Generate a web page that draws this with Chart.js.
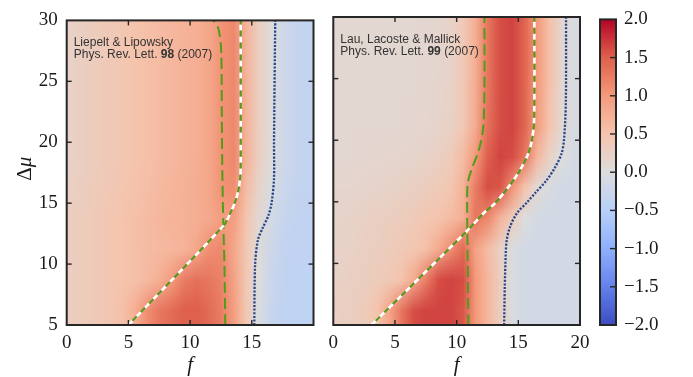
<!DOCTYPE html>
<html>
<head>
<meta charset="utf-8">
<script src="https://cdn.jsdelivr.net/npm/chart.js@4.4.1/dist/chart.umd.min.js"></script>
<style>
  html, body { margin: 0; padding: 0; background: #fff; }
  #wrap { position: relative; width: 693px; height: 377px; overflow: hidden; }
  canvas { position: absolute; top: 0; }
</style>
</head>
<body>
<div id="wrap">
  <canvas id="left" width="330" height="377" style="left:0"></canvas>
  <canvas id="right" width="280" height="377" style="left:320px"></canvas>
  <canvas id="cbar" width="103" height="377" style="left:590px"></canvas>
</div>
<script>
// cell centres of the colour maps (f across, delta mu down from the top)
const fCells = [0.5, 1.5, 2.5, 3.5, 4.5, 5.5, 6.5, 7.5, 8.5, 9.5, 10.5, 11.5, 12.5, 13.5, 14.5, 15.5, 16.5, 17.5, 18.5, 19.5];
const muCells = [28.75, 26.25, 23.75, 21.25, 18.75, 16.25, 13.75, 11.25, 8.75, 6.25];

// Liepelt & Lipowsky
const leftField = [
  [0.25, 0.3, 0.35, 0.4, 0.45, 0.5, 0.55, 0.6, 0.65, 0.7, 0.75, 0.85, 1.05, 1.15, 0.7, 0.3, 0.05, -0.2, -0.3, -0.35],
  [0.25, 0.3, 0.35, 0.4, 0.45, 0.5, 0.55, 0.6, 0.65, 0.7, 0.75, 0.85, 1.05, 1.15, 0.7, 0.3, 0.05, -0.2, -0.3, -0.35],
  [0.25, 0.3, 0.35, 0.4, 0.45, 0.5, 0.55, 0.6, 0.65, 0.7, 0.75, 0.85, 1.05, 1.15, 0.7, 0.3, 0.05, -0.2, -0.3, -0.35],
  [0.25, 0.3, 0.35, 0.4, 0.45, 0.5, 0.55, 0.6, 0.65, 0.7, 0.75, 0.85, 1.05, 1.15, 0.7, 0.3, 0.04, -0.2, -0.3, -0.35],
  [0.25, 0.3, 0.35, 0.4, 0.45, 0.5, 0.55, 0.6, 0.65, 0.7, 0.75, 0.85, 1.05, 1.15, 0.7, 0.3, 0.03, -0.2, -0.3, -0.35],
  [0.27, 0.32, 0.37, 0.42, 0.47, 0.52, 0.57, 0.62, 0.67, 0.72, 0.77, 0.85, 1.05, 1.1, 0.6, 0.22, -0.05, -0.25, -0.33, -0.36],
  [0.3, 0.35, 0.4, 0.45, 0.5, 0.55, 0.6, 0.65, 0.7, 0.72, 0.75, 0.82, 0.95, 0.95, 0.5, 0.12, -0.13, -0.3, -0.36, -0.38],
  [0.3, 0.35, 0.4, 0.45, 0.5, 0.55, 0.6, 0.62, 0.65, 0.7, 0.85, 1.1, 1.15, 0.85, 0.45, 0.05, -0.22, -0.34, -0.38, -0.38],
  [0.3, 0.35, 0.4, 0.45, 0.5, 0.55, 0.62, 0.75, 1.0, 1.25, 1.35, 1.3, 1.2, 0.9, 0.45, 0.0, -0.25, -0.36, -0.4, -0.4],
  [0.3, 0.35, 0.4, 0.45, 0.55, 0.75, 1.1, 1.3, 1.4, 1.5, 1.5, 1.4, 1.25, 0.95, 0.45, -0.05, -0.28, -0.38, -0.4, -0.4]
];

// Lau, Lacoste & Mallick
const rightField = [
  [0.12, 0.12, 0.12, 0.12, 0.12, 0.12, 0.12, 0.14, 0.17, 0.22, 0.4, 0.75, 1.3, 1.6, 1.65, 1.45, 1.0, 0.55, 0.15, -0.08],
  [0.12, 0.12, 0.12, 0.12, 0.12, 0.12, 0.12, 0.14, 0.17, 0.22, 0.4, 0.75, 1.3, 1.6, 1.65, 1.45, 1.0, 0.55, 0.15, -0.08],
  [0.12, 0.12, 0.12, 0.12, 0.12, 0.12, 0.13, 0.15, 0.18, 0.23, 0.41, 0.77, 1.32, 1.6, 1.65, 1.45, 0.98, 0.52, 0.13, -0.08],
  [0.12, 0.12, 0.12, 0.12, 0.12, 0.13, 0.14, 0.16, 0.2, 0.25, 0.42, 0.8, 1.35, 1.6, 1.65, 1.45, 0.95, 0.5, 0.12, -0.08],
  [0.13, 0.13, 0.14, 0.15, 0.16, 0.17, 0.19, 0.22, 0.27, 0.35, 0.6, 1.0, 1.5, 1.65, 1.6, 1.3, 0.65, 0.25, 0.0, -0.12],
  [0.16, 0.17, 0.18, 0.2, 0.22, 0.25, 0.28, 0.32, 0.37, 0.45, 0.7, 1.25, 1.6, 1.55, 1.05, 0.5, 0.1, -0.08, -0.15, -0.15],
  [0.2, 0.22, 0.25, 0.28, 0.3, 0.33, 0.38, 0.45, 0.5, 0.6, 0.75, 1.3, 1.15, 0.7, 0.35, 0.0, -0.12, -0.15, -0.15, -0.15],
  [0.22, 0.25, 0.28, 0.3, 0.35, 0.4, 0.45, 0.55, 0.8, 1.1, 1.4, 0.9, 0.6, 0.25, -0.05, -0.15, -0.15, -0.15, -0.15, -0.15],
  [0.25, 0.28, 0.3, 0.35, 0.4, 0.5, 0.8, 1.25, 1.6, 1.65, 1.6, 1.0, 0.65, 0.3, -0.05, -0.15, -0.15, -0.15, -0.15, -0.15],
  [0.28, 0.3, 0.35, 0.5, 0.85, 1.3, 1.6, 1.65, 1.65, 1.65, 1.55, 1.0, 0.65, 0.3, -0.05, -0.15, -0.15, -0.15, -0.15, -0.15]
];

// curves
const leftWhiteF = [5, 12.75, 13.2, 13.65, 13.9, 14.05, 14.1, 14.1];
const leftWhiteMu = [5, 13.2, 14.05, 15.1, 16, 17, 18, 30];
const leftGreenF = [12.85, 12.78, 12.7, 12.62, 12.57, 12.52, 12.3, 11.9];
const leftGreenMu = [5, 10, 13, 17, 22, 27.5, 29.3, 30];
const leftDotF = [15.2, 15.27, 15.5, 15.9, 16.35, 16.6, 16.8, 16.8, 16.9];
const leftDotMu = [5, 10, 12, 13, 14, 15, 17, 20, 30];

const rightWhiteF = [3.1, 10.9, 12.16, 13.1, 14.2, 15.14, 15.8, 16.1, 16.28, 16.3];
const rightWhiteMu = [5, 12.7, 14.05, 14.87, 16.2, 17.57, 18.9, 20, 21.6, 30];
const rightGreenF = [10.95, 10.9, 10.85, 10.9, 11.2, 11.8, 12.15, 12.25, 12.25];
const rightGreenMu = [5, 10, 15, 16.5, 17.6, 19.2, 21, 24, 30];
const rightDotF = [13.85, 13.9, 13.98, 14.06, 14.33, 14.87, 15.7, 16.36, 17.3, 17.98, 18.5, 18.7, 18.85, 18.87];
const rightDotMu = [5, 8, 10.8, 11.9, 12.97, 14.05, 14.95, 15.7, 16.76, 17.8, 18.9, 20, 23, 30];

const leftNote = [[{ t: 'Liepelt & Lipowsky' }], [{ t: 'Phys. Rev. Lett. ' }, { t: '98', b: true }, { t: ' (2007)' }]];
const rightNote = [[{ t: 'Lau, Lacoste & Mallick' }], [{ t: 'Phys. Rev. Lett. ' }, { t: '99', b: true }, { t: ' (2007)' }]];

const SERIF = '"Liberation Serif", "Times New Roman", serif';
const SANS = '"Liberation Sans", Arial, sans-serif';
const INK = '#262626';
const GREEN = '#4f9d1b';
const NAVY = '#25468b';

// matplotlib coolwarm, sampled at 9 points
const coolwarmStops = [[59, 76, 192], [98, 130, 234], [141, 176, 254], [184, 208, 249], [221, 221, 221],
  [245, 196, 173], [244, 154, 123], [222, 96, 77], [180, 4, 38]];
function coolwarm(v) {
  const t = Math.max(0, Math.min(1, (v + 2) / 4)) * 8;
  const i = Math.min(7, Math.floor(t));
  const u = t - i, a = coolwarmStops[i], b = coolwarmStops[i + 1];
  return [0, 1, 2].map(k => Math.round(a[k] + (b[k] - a[k]) * u));
}

function heatmap(field) {
  let img = null;
  return {
    id: 'heatmap',
    beforeDatasetsDraw(chart) {
      const { ctx, chartArea: a, scales: { x, y } } = chart;
      const nx = fCells.length, ny = muCells.length;
      if (!img) {
        img = document.createElement('canvas');
        img.width = nx; img.height = ny;
        const c = img.getContext('2d');
        const data = c.createImageData(nx, ny);
        for (let j = 0; j < ny; j++) {
          for (let i = 0; i < nx; i++) {
            const rgb = coolwarm(field[j][i]);
            const p = (j * nx + i) * 4;
            data.data[p] = rgb[0]; data.data[p + 1] = rgb[1]; data.data[p + 2] = rgb[2]; data.data[p + 3] = 255;
          }
        }
        c.putImageData(data, 0, 0);
      }
      const dx = fCells[1] - fCells[0], dy = muCells[0] - muCells[1];
      const x0 = x.getPixelForValue(fCells[0] - dx / 2), x1 = x.getPixelForValue(fCells[nx - 1] + dx / 2);
      const y0 = y.getPixelForValue(muCells[0] + dy / 2), y1 = y.getPixelForValue(muCells[ny - 1] - dy / 2);
      ctx.save();
      ctx.beginPath();
      ctx.rect(a.left, a.top, a.width, a.height);
      ctx.clip();
      ctx.imageSmoothingEnabled = true;
      ctx.imageSmoothingQuality = 'low';
      ctx.drawImage(img, x0, y0, x1 - x0, y1 - y0);
      ctx.restore();
    }
  };
}

function seg(ctx, x1, y1, x2, y2) {
  ctx.beginPath(); ctx.moveTo(x1, y1); ctx.lineTo(x2, y2); ctx.stroke();
}

// box round the plot and inward ticks on all four sides
const frame = {
  id: 'frame',
  afterDraw(chart) {
    const { ctx, chartArea: a, scales } = chart;
    ctx.save();
    ctx.strokeStyle = INK;
    ctx.lineWidth = 1.4;
    const len = 5;
    if (scales.x.options.display) {
      scales.x.ticks.forEach(t => {
        const px = scales.x.getPixelForValue(t.value);
        if (px <= a.left + 1 || px >= a.right - 1) return;
        seg(ctx, px, a.bottom, px, a.bottom - len);
        seg(ctx, px, a.top, px, a.top + len);
      });
    }
    scales.y.ticks.forEach(t => {
      const py = scales.y.getPixelForValue(t.value);
      if (py <= a.top + 1 || py >= a.bottom - 1) return;
      if (scales.x.options.display) seg(ctx, a.left, py, a.left + len, py);
      seg(ctx, a.right, py, a.right - len - (scales.x.options.display ? 0 : 1), py);
    });
    ctx.lineWidth = 2;
    ctx.strokeRect(a.left, a.top, a.width, a.height);
    ctx.restore();
  }
};

function notes(lines) {
  return {
    id: 'notes',
    afterDatasetsDraw(chart) {
      const { ctx, chartArea: a } = chart;
      ctx.save();
      ctx.fillStyle = '#333';
      ctx.textBaseline = 'alphabetic';
      lines.forEach((parts, k) => {
        let px = a.left + 7;
        const py = a.top + 26 + k * 11.8;
        parts.forEach(p => {
          ctx.font = (p.b ? 'bold ' : '') + '12px ' + SANS;
          ctx.fillText(p.t, px, py);
          px += ctx.measureText(p.t).width;
        });
      });
      ctx.restore();
    }
  };
}

function titles(withY) {
  return {
    id: 'titles',
    afterDraw(chart) {
      const { ctx, chartArea: a } = chart;
      ctx.save();
      ctx.fillStyle = '#1a1a1a';
      ctx.textBaseline = 'alphabetic';
      ctx.textAlign = 'center';
      ctx.font = 'italic 21px ' + SERIF;
      ctx.fillText('f', (a.left + a.right) / 2, 371);
      if (withY) {
        ctx.translate(31, (a.top + a.bottom) / 2 - 4);
        ctx.rotate(-Math.PI / 2);
        ctx.textAlign = 'left';
        ctx.font = '21px ' + SERIF;
        const w1 = ctx.measureText('\u0394').width;
        ctx.font = 'italic 21px ' + SERIF;
        const w2 = ctx.measureText('\u03bc').width;
        let sx = -(w1 + w2) / 2;
        ctx.font = '21px ' + SERIF;
        ctx.fillText('\u0394', sx, 0);
        ctx.font = 'italic 21px ' + SERIF;
        ctx.fillText('\u03bc', sx + w1, 0);
      }
      ctx.restore();
    }
  };
}

function curve(fs, mus) {
  return fs.map((f, i) => ({ x: f, y: mus[i] }));
}

function curveSets(whiteF, whiteMu, greenF, greenMu, dotF, dotMu) {
  const base = { showLine: true, pointRadius: 0, fill: false, tension: 0.3 };
  return [
    { ...base, data: curve(whiteF, whiteMu), borderColor: GREEN, borderWidth: 2, borderDash: [6, 6], borderDashOffset: 6 },
    { ...base, data: curve(whiteF, whiteMu), borderColor: '#ffffff', borderWidth: 2.6, borderDash: [6, 6] },
    { ...base, data: curve(greenF, greenMu), borderColor: GREEN, borderWidth: 2, borderDash: [11, 5] },
    { ...base, data: curve(dotF, dotMu), borderColor: NAVY, borderWidth: 2.3, borderDash: [2.1, 1.5] }
  ];
}

const tickFont = { family: SERIF, size: 19 };

function panel(id, field, sets, note, opts) {
  return new Chart(document.getElementById(id), {
    type: 'scatter',
    data: { datasets: sets },
    options: {
      responsive: false,
      animation: false,
      events: [],
      layout: { padding: { left: 0, top: 17, right: opts.padRight, bottom: 0 } },
      plugins: { legend: { display: false }, tooltip: { enabled: false } },
      scales: {
        x: {
          type: 'linear', min: 0, max: 20,
          ticks: { stepSize: 5, font: tickFont, color: '#1a1a1a', padding: 7, maxRotation: 0,
            callback: v => (opts.hide20 && v === 20) ? '' : String(v) },
          grid: { display: false, drawTicks: false },
          border: { display: false },
          afterFit(s) { s.height = 52; }
        },
        y: {
          type: 'linear', min: 5, max: 30,
          ticks: { stepSize: 5, font: tickFont, color: '#1a1a1a', padding: 9, display: opts.yLabels },
          grid: { display: false, drawTicks: false },
          border: { display: false },
          afterFit(s) { s.width = opts.yWidth; }
        }
      }
    },
    plugins: [heatmap(field), notes(note), frame, titles(opts.yLabels)]
  });
}

panel('left', leftField, curveSets(leftWhiteF, leftWhiteMu, leftGreenF, leftGreenMu, leftDotF, leftDotMu), leftNote,
  { padRight: 16.5, hide20: true, yLabels: true, yWidth: 66.7 });
panel('right', rightField, curveSets(rightWhiteF, rightWhiteMu, rightGreenF, rightGreenMu, rightDotF, rightDotMu), rightNote,
  { padRight: 20, hide20: false, yLabels: false, yWidth: 13.3 });

// colour bar
const cbarMin = -2, cbarMax = 2, cbarStep = 0.5;
const cbarFill = {
  id: 'cbarFill',
  beforeDatasetsDraw(chart) {
    const { ctx, chartArea: a, scales: { y } } = chart;
    const g = ctx.createLinearGradient(0, y.getPixelForValue(cbarMin), 0, y.getPixelForValue(cbarMax));
    for (let k = 0; k <= 40; k++) {
      const rgb = coolwarm(cbarMin + (cbarMax - cbarMin) * k / 40);
      g.addColorStop(k / 40, `rgb(${rgb[0]},${rgb[1]},${rgb[2]})`);
    }
    ctx.save();
    ctx.fillStyle = g;
    ctx.fillRect(a.left, a.top, a.width, a.height);
    ctx.restore();
  }
};

new Chart(document.getElementById('cbar'), {
  type: 'scatter',
  data: { datasets: [] },
  options: {
    responsive: false,
    animation: false,
    events: [],
    layout: { padding: { left: 10, top: 17, right: 0, bottom: 52 } },
    plugins: { legend: { display: false }, tooltip: { enabled: false } },
    scales: {
      x: { display: false, min: 0, max: 1 },
      y: {
        position: 'right', min: cbarMin, max: cbarMax,
        ticks: { stepSize: cbarStep, font: tickFont, color: '#1a1a1a', padding: 8,
          callback: v => (v < 0 ? '\u2212' : '') + Math.abs(v).toFixed(1) },
        grid: { display: false, drawTicks: false },
        border: { display: false },
        afterFit(s) { s.width = 77; }
      }
    }
  },
  plugins: [cbarFill, frame]
});
</script>
</body>
</html>
